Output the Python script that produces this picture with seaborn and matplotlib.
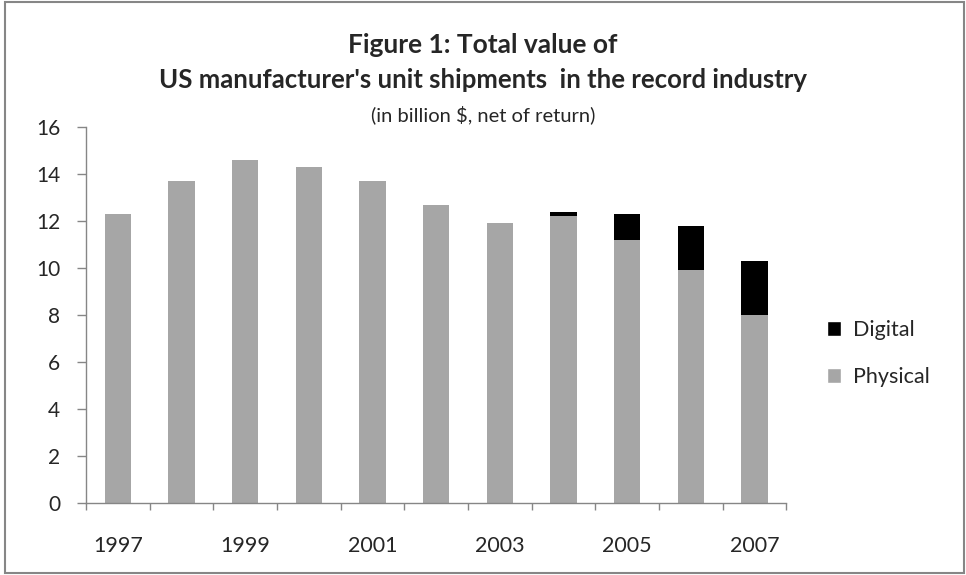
import matplotlib
matplotlib.use("Agg")
import matplotlib.pyplot as plt
import seaborn as sns
import pandas as pd
import numpy as np
from matplotlib.patches import Rectangle, Patch

years = ["1997", "1998", "1999", "2000", "2001", "2002", "2003", "2004", "2005", "2006", "2007"]
physical = [12.3, 13.7, 14.6, 14.3, 13.7, 12.7, 11.9, 12.2, 11.2, 9.9, 8.0]
digital = [0.0, 0.0, 0.0, 0.0, 0.0, 0.0, 0.0, 0.2, 1.1, 1.9, 2.3]
tick_labels = ["1997", "", "1999", "", "2001", "", "2003", "", "2005", "", "2007"]
yticks = [0, 2, 4, 6, 8, 10, 12, 14, 16]

sns.set_theme(style="white")
plt.rcParams['font.family'] = ['Lato', 'DejaVu Sans']

df = pd.DataFrame({"year": years, "physical": physical, "digital": digital})
df["total"] = df["physical"] + df["digital"]

fig = plt.figure(figsize=(9.66, 5.75), dpi=100)
ax = fig.add_axes([0.089, 0.125, 0.725, 0.654])

sns.barplot(data=df, x="year", y="total", color="#000000", width=0.41,
            saturation=1, ax=ax, order=years, linewidth=0)
sns.barplot(data=df, x="year", y="physical", color="#A6A6A6", width=0.41,
            saturation=1, ax=ax, order=years, linewidth=0)

ax.set_xlim(-0.5, len(years) - 0.5)
ax.set_ylim(0, 16)
ax.set_yticks(yticks)
ax.set_yticklabels([str(v) for v in yticks], fontsize=15)
ax.set_xticks(range(len(years)))
ax.set_xticklabels(tick_labels, fontsize=15.5)
ax.set_xticks(np.arange(-0.5, len(years), 1.0), minor=True)
ax.tick_params(axis="x", which="major", length=0, pad=24)
ax.tick_params(axis="x", which="minor", length=5, color="#868686", width=1, direction="out", bottom=True)
ax.tick_params(axis="y", length=6.5, color="#868686", width=1, direction="out", left=True, pad=12)
ax.set_xlabel("")
ax.set_ylabel("")
for s in ["top", "right"]:
    ax.spines[s].set_visible(False)
for s in ["left", "bottom"]:
    ax.spines[s].set_color("#868686")
    ax.spines[s].set_linewidth(1)

handles = [Patch(facecolor="#000000", label="Digital"),
           Patch(facecolor="#A6A6A6", label="Physical")]
fig.legend(handles=handles, loc="center left", bbox_to_anchor=(0.836, 0.385),
           frameon=False, fontsize=15.5, handlelength=0.65, handleheight=0.65,
           labelspacing=1.25, handletextpad=0.55)

fig.text(0.5, 0.922, "Figure 1: Total value of", ha="center", va="center",
         fontsize=19, fontweight="bold")
fig.text(0.5, 0.861, "US manufacturer's unit shipments  in the record industry",
         ha="center", va="center", fontsize=18.5, fontweight="bold")
fig.text(0.5, 0.8, "(in billion $, net of return)", ha="center", va="center",
         fontsize=14.5)

fig.patches.append(Rectangle((0.005, 0.003), 0.993, 0.994, transform=fig.transFigure,
                             fill=False, edgecolor="#868686", linewidth=1.5))

fig.savefig("out.png", dpi=100)
